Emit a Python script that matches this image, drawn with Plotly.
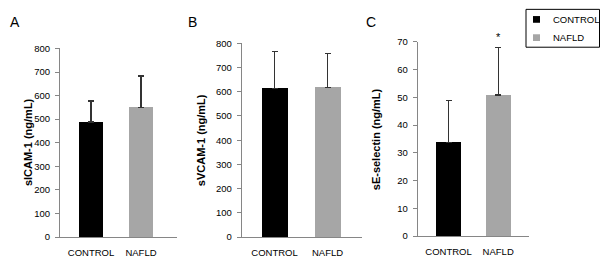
import plotly.graph_objects as go

categories = ["CONTROL", "NAFLD"]
colors = ["#000000", "#a6a6a6"]

sicam_mean = [488, 549]
sicam_err = [89, 134]
svcam_mean = [614, 618]
svcam_err = [152, 141]
sesel_mean = [33.8, 50.8]
sesel_err = [15.0, 17.1]

y_titles = ["sICAM-1 (ng/mL)", "sVCAM-1 (ng/mL)", "sE-selectin (ng/mL)"]
panel_letters = ["A", "B", "C"]
y_ranges = [[0, 800], [0, 800], [0, 70]]
y_dticks = [100, 100, 10]

W, H = 600, 265

def px_x(v):
    return v / W

def px_y(v):
    return 1 - v / H

# pixel geometry of each panel: (x_left, x_right, y_bottom_px, y_top_px, xrange, bar width)
panels = [
    (60, 177, 241, 44.3, [-0.62, 1.72], 0.48),
    (241.7, 361.7, 241, 39, [-0.62, 1.645], 0.48),
    (417.7, 529, 240, 37.3, [-0.62, 1.62], 0.5),
]
means = [sicam_mean, svcam_mean, sesel_mean]
errs = [sicam_err, svcam_err, sesel_err]

fig = go.Figure()
layout = dict()
annotations = []
font_family = "Liberation Sans, Arial, sans-serif"

for i, (xl, xr, yb, yt, xrange, bw) in enumerate(panels):
    ax = "" if i == 0 else str(i + 1)
    fig.add_trace(go.Bar(
        x=[0, 1], y=means[i],
        marker=dict(color=colors, line=dict(width=0)),
        width=bw,
        error_y=dict(type="data", symmetric=False, array=errs[i],
                     arrayminus=[0, 0], color="#333333", thickness=1.3, width=3),
        xaxis="x" + ax, yaxis="y" + ax, showlegend=False,
    ))
    layout["xaxis" + ax] = dict(
        domain=[px_x(xl), px_x(xr)], range=xrange, anchor="y" + ax,
        tickmode="array", tickvals=[0, 1], ticktext=categories,
        showline=True, linecolor="#868686", linewidth=1, ticks="",
        ticklabelstandoff=7,
        showgrid=False, zeroline=False,
        tickfont=dict(size=9.5, family=font_family, color="#000000"),
        fixedrange=True,
    )
    layout["yaxis" + ax] = dict(
        domain=[px_y(yb), px_y(yt)], range=y_ranges[i], anchor="x" + ax,
        dtick=y_dticks[i], tick0=0,
        showline=True, linecolor="#868686", linewidth=1,
        ticks="outside", ticklen=4, tickcolor="#868686",
        ticklabelstandoff=3,
        showgrid=False, zeroline=False,
        tickfont=dict(size=9.5, family=font_family, color="#000000"),
        fixedrange=True,
    )

title_x = [28, 201, 376]
title_y = [142, 140, 139]
for i in range(3):
    annotations.append(dict(
        text="<b>" + y_titles[i] + "</b>", x=px_x(title_x[i]), y=px_y(title_y[i]),
        xref="paper", yref="paper", showarrow=False, textangle=-90,
        font=dict(size=11, family=font_family, color="#000000"),
        xanchor="center", yanchor="middle",
    ))

letter_x = [15, 192, 371]
for i in range(3):
    annotations.append(dict(
        text=panel_letters[i], x=px_x(letter_x[i]), y=px_y(16.5),
        xref="paper", yref="paper", showarrow=False,
        font=dict(size=14, family=font_family, color="#000000"),
        xanchor="center", yanchor="middle",
    ))

# significance asterisk above NAFLD in panel C
annotations.append(dict(
    text="*", x=1, y=sesel_mean[1] + sesel_err[1], xref="x3", yref="y3",
    showarrow=False, yshift=11, font=dict(size=11, family=font_family, color="#000000"),
    xanchor="center", yanchor="middle",
))

# manual legend
shapes = [dict(type="rect", xref="paper", yref="paper",
               x0=px_x(526), x1=px_x(599.5), y0=px_y(43), y1=px_y(3.5),
               line=dict(color="#000000", width=1), fillcolor="rgba(0,0,0,0)")]
legend_y = [14, 33]
for k in range(2):
    shapes.append(dict(type="rect", xref="paper", yref="paper",
                       x0=px_x(533), x1=px_x(540), y0=px_y(legend_y[k] + 3.5),
                       y1=px_y(legend_y[k] - 3.5),
                       line=dict(width=0), fillcolor=colors[k]))
    annotations.append(dict(
        text=categories[k], x=px_x(551), y=px_y(legend_y[k]),
        xref="paper", yref="paper", showarrow=False, xanchor="left", yanchor="middle",
        font=dict(size=9.5, family=font_family, color="#000000"),
    ))

fig.update_layout(
    width=W, height=H, margin=dict(l=0, r=0, t=0, b=0),
    paper_bgcolor="white", plot_bgcolor="white",
    annotations=annotations, shapes=shapes, bargap=0,
    **layout,
)

fig.write_html("out.html", config={"displayModeBar": False})

# remove default page margin so the figure sits at the window's top-left corner
with open("out.html", "r", encoding="utf-8") as f:
    html = f.read()
html = html.replace("<body>", '<body style="margin:0;padding:0;overflow:hidden">', 1)
with open("out.html", "w", encoding="utf-8") as f:
    f.write(html)
